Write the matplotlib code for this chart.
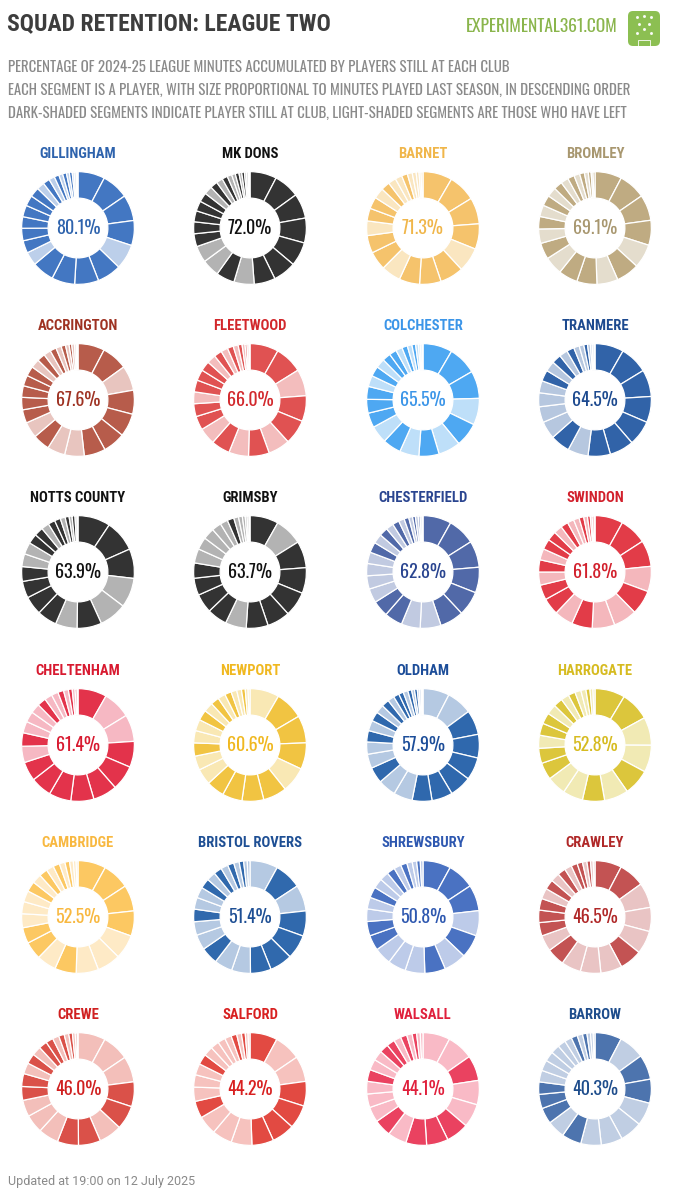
import matplotlib
matplotlib.use("Agg")
import matplotlib.pyplot as plt
from matplotlib import font_manager
from matplotlib.patches import FancyBboxPatch, Rectangle

# ---------------- data ----------------
clubs = ["GILLINGHAM", "MK DONS", "BARNET", "BROMLEY",
         "ACCRINGTON", "FLEETWOOD", "COLCHESTER", "TRANMERE",
         "NOTTS COUNTY", "GRIMSBY", "CHESTERFIELD", "SWINDON",
         "CHELTENHAM", "NEWPORT", "OLDHAM", "HARROGATE",
         "CAMBRIDGE", "BRISTOL ROVERS", "SHREWSBURY", "CRAWLEY",
         "CREWE", "SALFORD", "WALSALL", "BARROW"]
retention = [80.1, 72.0, 71.3, 69.1, 67.6, 66.0, 65.5, 64.5,
             63.9, 63.7, 62.8, 61.8, 61.4, 60.6, 57.9, 52.8,
             52.5, 51.4, 50.8, 46.5, 46.0, 44.2, 44.1, 40.3]

# relative share of last season's league minutes per player (descending),
# and whether each player is still at the club (1) or has left (0)
mins_gillingham = [28, 28, 27, 26, 26, 25, 25, 24, 23, 14, 13, 13, 12, 12, 11, 10, 8, 7, 6, 5, 4, 4, 3, 3, 2, 2, 1, 1]
kept_gillingham = "1111011110111111010101010010"
mins_mkdons = [29, 28, 27, 27, 26, 25, 23, 22, 20, 19, 18, 14, 13, 12, 11, 10, 9, 8, 7, 6, 5, 4, 4, 3, 3, 2, 2, 1, 1]
kept_mkdons = "11111110100111110101001010010"
mins_barnet = [30, 28, 27, 26, 25, 24, 22, 21, 20, 19, 18, 15, 13, 12, 11, 9, 8, 7, 6, 5, 4, 3, 2, 2]
kept_barnet = "111101110110110100100000"
mins_bromley = [28, 28, 27, 26, 25, 24, 22, 21, 20, 19, 17, 15, 13, 12, 11, 10, 9, 8, 7, 6, 5, 4, 3, 2, 2]
kept_bromley = "1111010110101010101010101"
mins_accrington = [30, 29, 28, 27, 26, 25, 24, 22, 20, 19, 18, 15, 14, 13, 12, 11, 10, 9, 8, 7, 6, 5, 4, 3, 3, 2, 1, 1]
kept_accrington = "1101111001011111010101010010"
mins_fleetwood = [29, 28, 27, 26, 25, 22, 21, 20, 19, 17, 14, 13, 12, 12, 11, 10, 9, 8, 7, 6, 5, 4, 3, 2, 2, 1]
kept_fleetwood = "11011010101101110101010100"
mins_colchester = [32, 31, 30, 29, 26, 24, 22, 21, 20, 19, 16, 15, 14, 12, 11, 10, 9, 8, 7, 6, 5, 4, 3, 2, 2, 1]
kept_colchester = "11101010101110101101010000"
mins_tranmere = [31, 30, 29, 28, 27, 26, 24, 22, 21, 19, 17, 15, 13, 12, 11, 10, 9, 8, 6, 5, 4, 3, 2, 2, 1]
kept_tranmere = "1111111010000101010010000"
mins_notts = [33, 32, 30, 30, 28, 25, 22, 20, 19, 17, 15, 13, 12, 10, 9, 8, 7, 6, 5, 4, 3, 3, 2, 1]
kept_notts = "111001011110011011010100"
mins_grimsby = [30, 29, 28, 27, 26, 24, 23, 22, 21, 20, 18, 16, 15, 13, 12, 10, 8, 7, 5, 4, 3, 2, 2, 1]
kept_grimsby = "101111101111000001000000"
mins_chesterfield = [30, 29, 28, 27, 26, 25, 22, 20, 19, 17, 15, 14, 13, 12, 11, 10, 9, 8, 7, 6, 5, 4, 3, 3, 2, 2, 1]
kept_chesterfield = "111111001100001010101010100"
mins_swindon = [30, 29, 28, 27, 26, 25, 24, 22, 20, 18, 16, 14, 13, 12, 11, 10, 9, 8, 7, 6, 5, 4, 3, 2, 2, 1]
kept_swindon = "11101001011010110100101010"
mins_cheltenham = [30, 29, 28, 27, 26, 25, 24, 23, 22, 20, 17, 14, 12, 11, 10, 9, 8, 7, 6, 5, 4, 3, 2, 1]
kept_cheltenham = "100111111101000100101010"
mins_newport = [31, 30, 29, 28, 27, 25, 23, 21, 19, 17, 15, 14, 13, 12, 11, 10, 9, 8, 7, 6, 5, 4, 3, 2]
kept_newport = "011101111001001010100100"
mins_oldham = [28, 27, 26, 25, 24, 23, 22, 21, 20, 19, 17, 15, 13, 12, 11, 10, 9, 8, 7, 6, 5, 5, 4, 3, 3, 2, 2, 1, 1]
kept_oldham = "00111111001001010101101010010"
mins_harrogate = [30, 29, 28, 27, 26, 24, 22, 20, 19, 17, 15, 13, 12, 11, 10, 9, 8, 7, 6, 5, 4, 3, 2]
kept_harrogate = "11001010011011010100100"
mins_cambridge = [30, 29, 28, 27, 26, 25, 24, 23, 21, 19, 17, 15, 13, 12, 11, 10, 9, 8, 7, 6, 5, 4, 3, 2]
kept_cambridge = "111100010110001010101000"
mins_bristol = [31, 30, 29, 28, 27, 25, 23, 21, 20, 19, 17, 15, 14, 13, 12, 11, 10, 9, 8, 7, 6, 5, 4, 3]
kept_bristol = "010111100100100101010100"
mins_shrewsbury = [31, 30, 29, 28, 26, 25, 23, 22, 20, 19, 17, 16, 14, 13, 12, 11, 10, 9, 8, 7, 6, 5, 4, 3]
kept_shrewsbury = "111010100011001001010010"
mins_crawley = [30, 29, 28, 27, 26, 25, 24, 23, 22, 20, 18, 15, 14, 13, 12, 11, 10, 9, 8, 7, 6, 5, 4, 3, 2]
kept_crawley = "1100010001011101010110100"
mins_crewe = [30, 29, 28, 27, 26, 25, 24, 23, 22, 20, 18, 15, 14, 12, 11, 10, 9, 8, 7, 6, 5, 4, 3, 2, 1]
kept_crewe = "0001101100011010110101010"
mins_salford = [29, 28, 27, 26, 25, 24, 23, 22, 21, 20, 18, 15, 13, 12, 11, 10, 9, 8, 7, 6, 5, 4, 3, 2]
kept_salford = "100111100010001000010100"
mins_walsall = [30, 29, 28, 27, 26, 25, 24, 23, 21, 19, 17, 15, 14, 13, 12, 11, 10, 9, 8, 7, 6, 5, 4, 3]
kept_walsall = "001001110100010011010100"
mins_barrow = [30, 29, 28, 27, 26, 25, 24, 23, 22, 20, 18, 16, 14, 13, 12, 11, 10, 9, 8, 7, 6, 5, 4, 3, 2]
kept_barrow = "1011000010111000000101000"

minutes = [mins_gillingham, mins_mkdons, mins_barnet, mins_bromley,
           mins_accrington, mins_fleetwood, mins_colchester, mins_tranmere,
           mins_notts, mins_grimsby, mins_chesterfield, mins_swindon,
           mins_cheltenham, mins_newport, mins_oldham, mins_harrogate,
           mins_cambridge, mins_bristol, mins_shrewsbury, mins_crawley,
           mins_crewe, mins_salford, mins_walsall, mins_barrow]
kept = [kept_gillingham, kept_mkdons, kept_barnet, kept_bromley,
        kept_accrington, kept_fleetwood, kept_colchester, kept_tranmere,
        kept_notts, kept_grimsby, kept_chesterfield, kept_swindon,
        kept_cheltenham, kept_newport, kept_oldham, kept_harrogate,
        kept_cambridge, kept_bristol, kept_shrewsbury, kept_crawley,
        kept_crewe, kept_salford, kept_walsall, kept_barrow]

# colours: title/text, dark segment, light segment
title_colors = ["#2e63ad", "#111111", "#f0b64a", "#a8976f",
                "#9e3222", "#d2282c", "#3b95e8", "#1d4a8f",
                "#111111", "#111111", "#2a4590", "#d2202c",
                "#d81a30", "#f0b820", "#1c4d99", "#d6bb20",
                "#f8b840", "#1e4f94", "#2e58b0", "#b02828",
                "#d02020", "#d82020", "#e0203c", "#1e4d8c"]
dark_colors = ["#4377c2", "#333333", "#f5c36c", "#bfab82",
               "#b75c4b", "#e05252", "#4ea8f2", "#3163a8",
               "#333333", "#333333", "#5169a8", "#e23c48",
               "#e3334b", "#f1c442", "#2f68ad", "#dcc63c",
               "#fcc862", "#3069ad", "#4a72c2", "#c35353",
               "#da5149", "#e24a42", "#ea4260", "#4d74ae"]
light_colors = ["#bccfea", "#b3b3b3", "#fae6c0", "#e4ddcd",
                "#e8c5bf", "#f3bdbd", "#bedff9", "#b6c7df",
                "#b3b3b3", "#b3b3b3", "#c1cae1", "#f4b7bc",
                "#f6b8c3", "#f9e8b4", "#b5c9e2", "#f1eab4",
                "#feeac6", "#b5c9e2", "#bdcbe9", "#e9c4c4",
                "#f3bfba", "#f6c2be", "#f9bac6", "#c0cee3"]

subtitle_lines = [
    "PERCENTAGE OF 2024-25 LEAGUE MINUTES ACCUMULATED BY PLAYERS STILL AT EACH CLUB",
    "EACH SEGMENT IS A PLAYER, WITH SIZE PROPORTIONAL TO MINUTES PLAYED LAST SEASON, IN DESCENDING ORDER",
    "DARK-SHADED SEGMENTS INDICATE PLAYER STILL AT CLUB, LIGHT-SHADED SEGMENTS ARE THOSE WHO HAVE LEFT",
]

# ---------------- fonts ----------------
fonts = font_manager.fontManager.ttflist
names = {f.name for f in fonts}
cond = "DejaVu Sans"
for cand in ["Oswald", "Bebas Neue", "Roboto Condensed", "Liberation Sans Narrow"]:
    if cand in names:
        cond = cand
        break


def has_bold(name):
    for f in fonts:
        if f.name == name:
            w = f.weight
            if isinstance(w, str):
                if w in ("bold", "heavy", "black", "extra bold", "semibold", "demibold"):
                    return True
            elif w >= 600:
                return True
    return False


cond_bold = cond
if not has_bold(cond):
    for cand in ["Roboto Condensed", "Liberation Sans Narrow", "DejaVu Sans"]:
        if cand in names and has_bold(cand):
            cond_bold = cand
            break
plain = "Roboto" if "Roboto" in names else "DejaVu Sans"

# ---------------- figure ----------------
W, H = 674, 1200
fig = plt.figure(figsize=(W / 100, H / 100), dpi=100)
fig.patch.set_facecolor("white")


def fx(x):
    return x / W


def fy(y):
    return 1 - y / H


fig.text(fx(7), fy(24), "SQUAD RETENTION: LEAGUE TWO", ha="left", va="center",
         fontsize=17, fontweight="bold", color="#3d3d3d", family=cond_bold)
for i, line in enumerate(subtitle_lines):
    fig.text(fx(8), fy(68 + i * 22.5), line, ha="left", va="center",
             fontsize=10.7, color="#8a8a8a", family=cond)
fig.text(fx(618), fy(26), "EXPERIMENTAL361.COM", ha="right", va="center",
         fontsize=12.5, color="#8ab54c", family=cond)

# logo icon
lax = fig.add_axes([fx(627), fy(47), fx(34), 37 / H])
lax.set_xlim(0, 34)
lax.set_ylim(0, 37)
lax.axis("off")
lax.add_patch(FancyBboxPatch((1, 1), 32, 35, boxstyle="round,pad=0,rounding_size=5",
                             fc="#8cbf52", ec="none"))
for (px, py) in [(10, 30), (17, 31), (24, 30), (12, 23), (22, 23), (17, 18), (10, 14), (24, 14)]:
    lax.plot(px, py, "o", ms=1.2, color="white", alpha=0.85)
lax.add_patch(Rectangle((11, 1.5), 12, 6, fc="none", ec="white", lw=0.7, alpha=0.85))

fig.text(fx(8), fy(1181), "Updated at 19:00 on 12 July 2025", ha="left", va="center",
         fontsize=9, color="#8a8a8a", family=plain)

# ---------------- donuts ----------------
col_x = [78, 250, 423, 595]
row_y = [228, 400, 572, 745, 917, 1089]
R = 57.5

for k, club in enumerate(clubs):
    cx = col_x[k % 4]
    cy = row_y[k // 4]
    ax = fig.add_axes([fx(cx - R), fy(cy + R), 2 * R / W, 2 * R / H])
    vals = minutes[k]
    cols = [dark_colors[k] if f == "1" else light_colors[k] for v, f in zip(vals, kept[k])]
    ax.pie(vals[:len(cols)], colors=cols, startangle=90, counterclock=False, radius=1.0,
           wedgeprops=dict(width=0.47, edgecolor="white", linewidth=0.9))
    ax.set_xlim(-1.02, 1.02)
    ax.set_ylim(-1.02, 1.02)
    ax.set_aspect("equal")
    ax.axis("off")
    ax.text(0, 0, f"{retention[k]:.1f}%", ha="center", va="center",
            fontsize=13, color=title_colors[k], family=cond)
    fig.text(fx(cx), fy(cy - 74), club, ha="center", va="center",
             fontsize=10.5, fontweight="bold", color=title_colors[k], family=cond_bold)

fig.savefig("out.png", dpi=100, facecolor="white")
